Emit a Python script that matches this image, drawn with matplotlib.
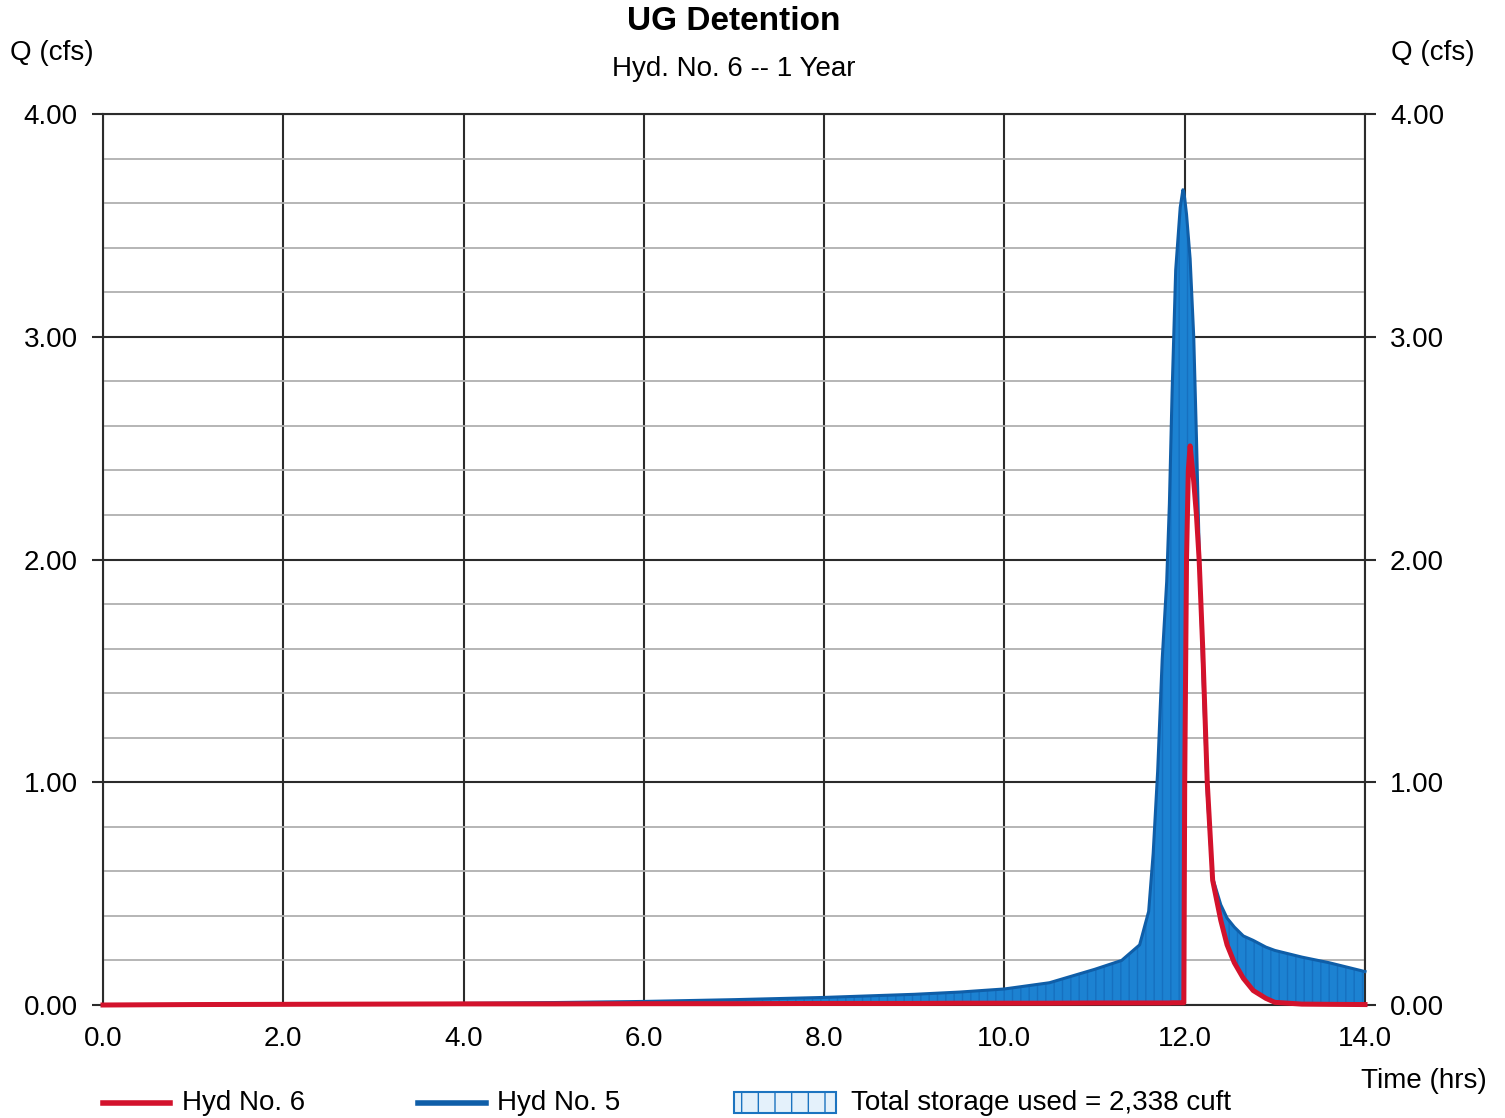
import numpy as np
import matplotlib
matplotlib.use("Agg")
import matplotlib.pyplot as plt
from matplotlib.lines import Line2D
from matplotlib.patches import Rectangle
from matplotlib.ticker import FormatStrFormatter, MultipleLocator

plt.rcParams["font.family"] = ["Liberation Sans Narrow", "Liberation Sans", "DejaVu Sans"]
plt.rcParams["hatch.linewidth"] = 1.0

# ── hydrograph data (hrs, cfs) ───────────────────────────────────────────────
time_hrs = [0.0, 1.0, 2.0, 3.0, 4.0, 5.0, 6.0, 7.0, 8.0, 9.0, 9.5, 10.0, 10.5,
            11.0, 11.3, 11.5, 11.6, 11.65, 11.7, 11.75, 11.8, 11.83, 11.86,
            11.9, 11.95, 11.98, 11.99, 12.0, 12.02, 12.04, 12.06, 12.1, 12.13,
            12.16, 12.2, 12.25, 12.28, 12.31, 12.4, 12.47, 12.55, 12.65, 12.76,
            12.9, 13.0, 13.3, 13.6, 14.0]

# inflow hydrograph (Hyd No. 5)
inflow_cfs = [0.0, 0.001, 0.002, 0.004, 0.007, 0.011, 0.016, 0.024, 0.034,
              0.048, 0.058, 0.072, 0.10, 0.16, 0.20, 0.27, 0.42, 0.68, 1.05,
              1.55, 1.90, 2.25, 2.75, 3.30, 3.58, 3.66, 3.65, 3.62, 3.55,
              3.45, 3.35, 3.00, 2.55, 2.05, 1.50, 0.95, 0.75, 0.57, 0.45,
              0.39, 0.35, 0.31, 0.29, 0.26, 0.245, 0.215, 0.19, 0.15]

# outflow hydrograph (Hyd No. 6)
outflow_cfs = [0.0, 0.002, 0.003, 0.004, 0.005, 0.005, 0.006, 0.006, 0.007,
               0.007, 0.008, 0.008, 0.008, 0.009, 0.009, 0.009, 0.009, 0.009,
               0.009, 0.009, 0.009, 0.009, 0.010, 0.010, 0.010, 0.010, 0.010,
               1.00, 2.00, 2.40, 2.51, 2.35, 2.20, 2.00, 1.60, 1.00, 0.78,
               0.56, 0.38, 0.27, 0.19, 0.12, 0.065, 0.03, 0.012, 0.004, 0.003,
               0.002]

x_ticks = [0.0, 2.0, 4.0, 6.0, 8.0, 10.0, 12.0, 14.0]
y_ticks = [0.0, 1.0, 2.0, 3.0, 4.0]
storage_cuft = 2338

RED = "#d3122c"
LINE_BLUE = "#0f5ea8"
FILL_BLUE = "#1c82d2"
HATCH_BLUE = "#1670c0"
FS = 20

t = np.array(time_hrs)
qin = np.array(inflow_cfs)
qout = np.array(outflow_cfs)

fig = plt.figure(figsize=(15.05, 11.18), dpi=100)
ax = fig.add_axes([103 / 1505, 113 / 1118, 1262 / 1505, 891 / 1118])

# storage = area between inflow and outflow
ax.fill_between(t, qout, qin, where=qin >= qout, interpolate=True,
                facecolor=FILL_BLUE, edgecolor=HATCH_BLUE, hatch="||",
                linewidth=0, zorder=2)
ax.plot(t, qin, color=LINE_BLUE, lw=2.2, zorder=3, solid_joinstyle="round",
        clip_on=False)
ax.plot(t, qout, color=RED, lw=3.6, zorder=4, solid_joinstyle="round",
        clip_on=False)

ax.set_xlim(0, 14)
ax.set_ylim(0, 4)
ax.set_xticks(x_ticks)
ax.set_yticks(y_ticks)
ax.yaxis.set_minor_locator(MultipleLocator(0.2))
ax.xaxis.set_major_formatter(FormatStrFormatter("%.1f"))
ax.yaxis.set_major_formatter(FormatStrFormatter("%.2f"))

ax.grid(which="major", axis="both", color="#2b2b2b", lw=1.5, zorder=1)
ax.grid(which="minor", axis="y", color="#b0b0b0", lw=1.3, zorder=1)
ax.set_axisbelow(True)
for sp in ax.spines.values():
    sp.set_color("#2b2b2b")
    sp.set_linewidth(1.5)

ax.tick_params(axis="y", which="major", direction="out", length=8, width=1.5,
               color="#2b2b2b", left=True, right=True, labelleft=True,
               labelright=True, labelsize=FS, pad=10)
ax.tick_params(axis="y", which="minor", length=0)
ax.tick_params(axis="x", which="major", length=0, labelsize=FS, pad=15)

# titles and axis captions
fig.text(734 / 1505, 1 - 22 / 1118, "UG Detention", ha="center", va="center",
         fontsize=24, fontweight="bold")
fig.text(734 / 1505, 1 - 69 / 1118, "Hyd. No. 6 -- 1 Year", ha="center",
         va="center", fontsize=FS)
fig.text(10 / 1505, 1 - 53 / 1118, "Q (cfs)", ha="left", va="center", fontsize=FS)
fig.text(1475 / 1505, 1 - 53 / 1118, "Q (cfs)", ha="right", va="center",
         fontsize=FS)
fig.text(1487 / 1505, 1 - 1081 / 1118, "Time (hrs)", ha="right", va="center",
         fontsize=FS)

# legend row along the bottom
ly = 1 - 1103 / 1118
fig.add_artist(Line2D([103 / 1505, 170 / 1505], [ly, ly], color=RED, lw=4))
fig.text(182 / 1505, ly, "Hyd No. 6", ha="left", va="center", fontsize=FS)
fig.add_artist(Line2D([418 / 1505, 486 / 1505], [ly, ly], color=LINE_BLUE, lw=4))
fig.text(497 / 1505, ly, "Hyd No. 5", ha="left", va="center", fontsize=FS)
fig.add_artist(Rectangle((734 / 1505, 1 - 1113 / 1118), 102 / 1505, 21 / 1118,
                         facecolor="#e4f1fb", edgecolor="#1c74c0", hatch="|",
                         lw=1.5, transform=fig.transFigure))
fig.text(851 / 1505, ly, f"Total storage used = {storage_cuft:,} cuft",
         ha="left", va="center", fontsize=FS)

fig.savefig("out.png", dpi=100, facecolor="white")
